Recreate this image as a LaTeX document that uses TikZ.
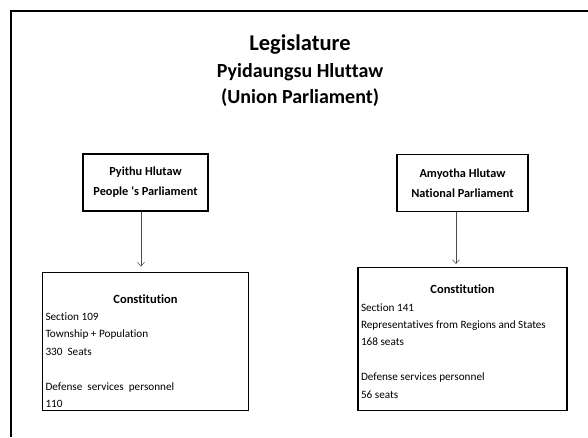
\documentclass[tikz,border=0pt]{standalone}
\usepackage{fontspec}
\setmainfont{Carlito}[Ligatures=NoCommon]
\usepackage{tikz}
\usetikzlibrary{arrows.meta,positioning,calc}

\begin{document}
\begin{tikzpicture}[
    x=1pt, y=-1pt,
    heading/.style={font=\bfseries\fontsize{20}{24}\selectfont, inner sep=0pt},
    house/.style={rectangle, draw, line width=1.1pt, align=center, minimum height=57pt, font=\bfseries\fontsize{12.3}{20}\selectfont},
    seatbox/.style={rectangle, draw, line width=1.1pt, inner sep=3pt, font=\fontsize{11.2}{17.4}\selectfont},
    arrow/.style={-{Straight Barb[length=4pt,width=7pt]}, draw=black!70, line width=0.5pt}
]
    \useasboundingbox (0,0) rectangle (588,437);
    % outer frame, cut by the page edge
    \draw[line width=1.8pt] (11,437) |- (588,11);

    \node[heading, font=\bfseries\fontsize{22.5}{26}\selectfont] (legis) at (300,45) {Legislature};
    \node[heading] (pyidaung) at (300,72) {Pyidaungsu Hluttaw};
    \node[heading] (union) at (300,98) {(Union Parliament)};

    \node[house, minimum width=125pt] (pyithu) at (145.5,182.5) {Pyithu Hlutaw\\People ‘s Parliament};
    \node[house, minimum width=131pt] (amyotha) at (462.5,183) {Amyotha Hlutaw\\National Parliament};

    \node[seatbox, below=60pt of pyithu] (pyithuinfo) {\parbox[c][132pt][t]{200pt}{%
        \rule{0pt}{28pt}\hfill\textbf{\fontsize{12.5}{17}\selectfont Constitution}\hfill\null\\
        Section 109\\
        Township + Population\\
        330~ Seats\\[17.4pt]
        Defense~ services~ personnel\\
        110}};
    \node[seatbox, below=55pt of amyotha] (amyothainfo) {\parbox[c][137pt][t]{203pt}{%
        \rule{0pt}{23pt}\hfill\textbf{\fontsize{12.5}{17}\selectfont Constitution}\hfill\null\\
        Section 141\\
        Representatives from Regions and States\\
        168 seats\\[17.4pt]
        Defense services personnel\\
        56 seats}};

    \draw[arrow, shorten >=5pt] ([xshift=-4.5pt]pyithu.south) -- ([xshift=-4.5pt]pyithu.south |- pyithuinfo.north);
    \draw[arrow, shorten >=3pt] ([xshift=-6.5pt]amyotha.south) -- ([xshift=-6.5pt]amyotha.south |- amyothainfo.north);
\end{tikzpicture}
\end{document}
